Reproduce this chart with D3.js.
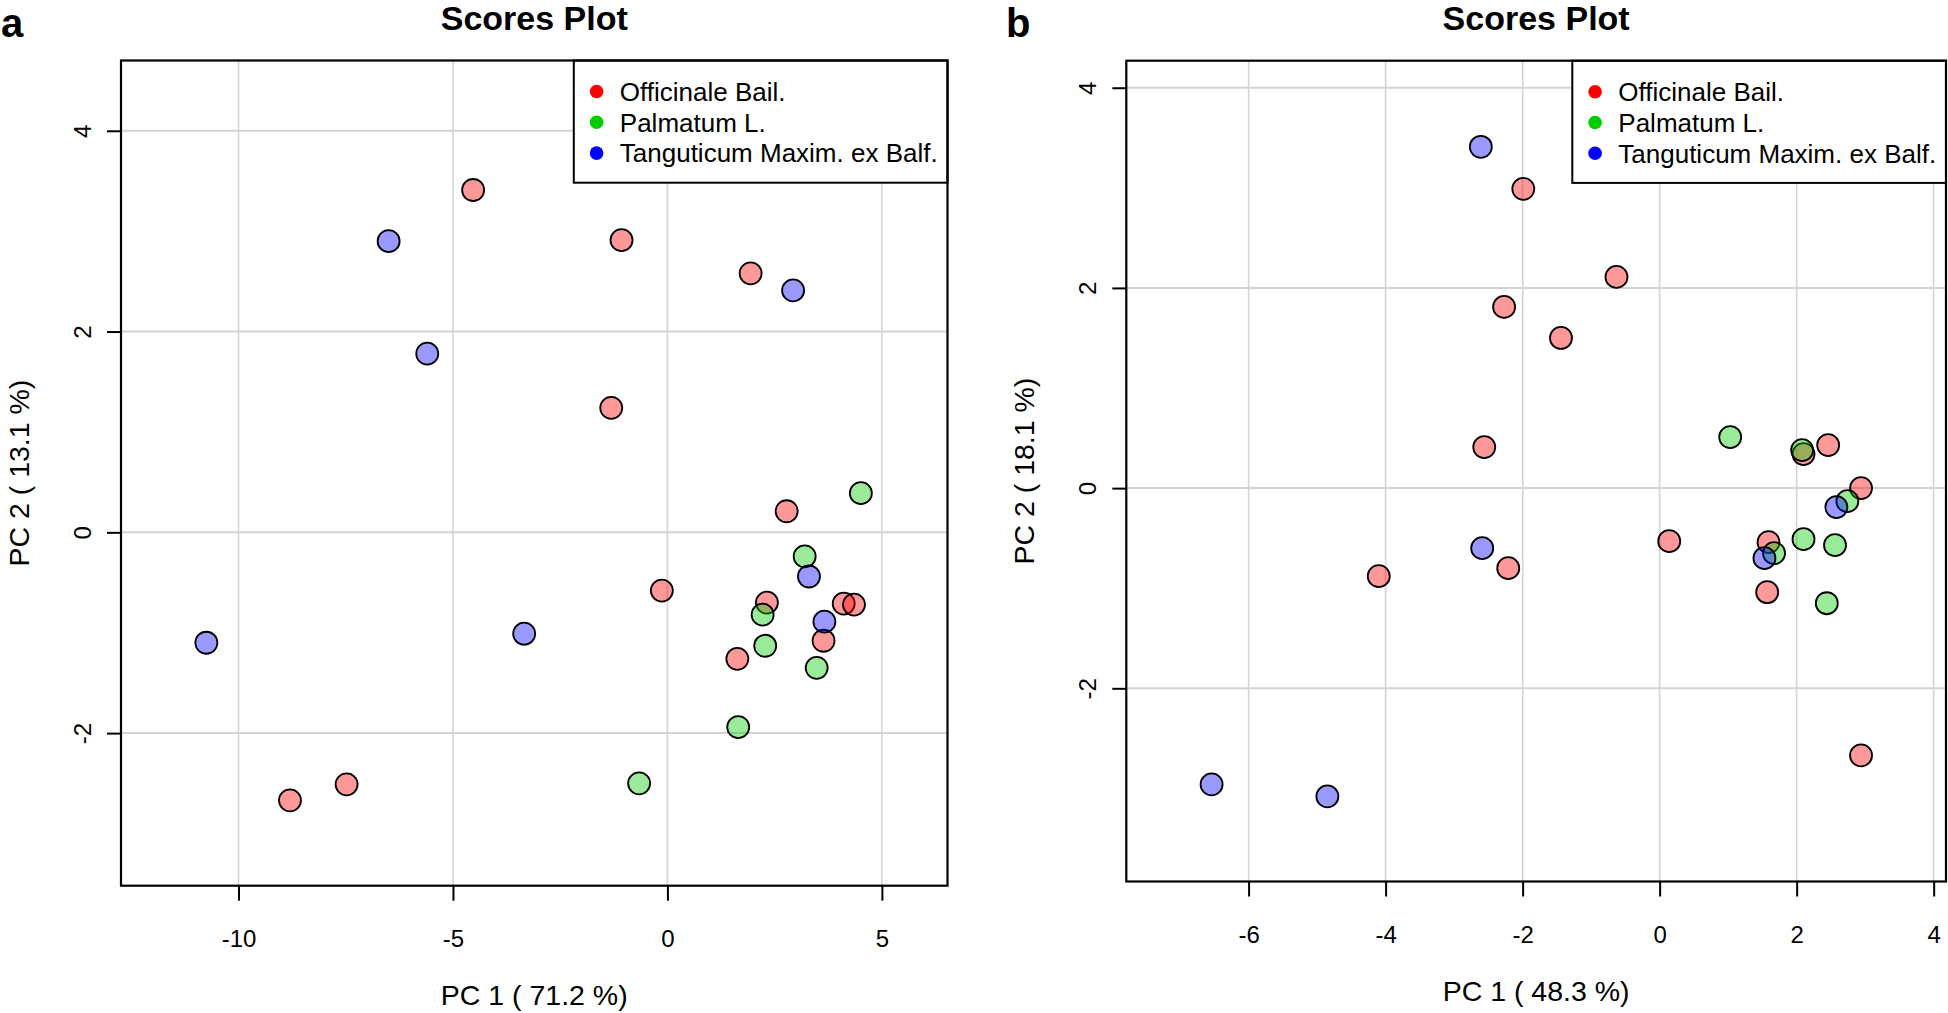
<!DOCTYPE html>
<html>
<head>
<meta charset="utf-8">
<script src="https://cdn.jsdelivr.net/npm/d3@7"></script>
<style>
  html, body { margin: 0; padding: 0; background: #fff; }
  svg { display: block; font-family: "Liberation Sans", Arial, sans-serif; }
</style>
</head>
<body>
<svg id="chart" width="1948" height="1013"></svg>
<script>
// ---------------- DATA ----------------
const seriesNames = ["Officinale Bail.", "Palmatum L.", "Tanguticum Maxim. ex Balf."];
const seriesColors = ["#FF0000", "#00CD00", "#0000FF"];

// Panel a: PCA scores [PC1, PC2]
const aOfficinale = [[-4.53, 3.41], [-1.07, 2.91], [1.94, 2.58], [-1.31, 1.24], [2.78, 0.21],
  [-0.13, -0.58], [2.32, -0.70], [4.11, -0.71], [4.35, -0.72], [3.64, -1.08], [1.63, -1.26],
  [-7.48, -2.51], [-8.80, -2.67]];
const aPalmatum = [[4.51, 0.39], [3.20, -0.24], [2.22, -0.82], [2.28, -1.13], [3.48, -1.35],
  [1.65, -1.94], [-0.66, -2.50]];
const aTanguticum = [[-6.50, 2.90], [2.93, 2.41], [-5.60, 1.78], [3.30, -0.44], [3.66, -0.89],
  [-3.34, -1.01], [-10.75, -1.10]];

// Panel b: PCA scores [PC1, PC2]
const bOfficinale = [[-1.99, 2.99], [-0.63, 2.11], [-2.27, 1.81], [-1.44, 1.50], [-2.56, 0.41],
  [2.10, 0.34], [2.46, 0.43], [2.94, 0.00], [0.14, -0.53], [1.59, -0.54], [-2.21, -0.80],
  [-4.10, -0.88], [1.57, -1.04], [2.94, -2.67]];
const bPalmatum = [[1.03, 0.51], [2.08, 0.38], [2.74, -0.13], [2.10, -0.51], [2.56, -0.57],
  [1.67, -0.65], [2.44, -1.15]];
const bTanguticum = [[-2.61, 3.41], [2.58, -0.19], [1.53, -0.70], [-2.59, -0.60],
  [-6.54, -2.96], [-4.85, -3.08]];

const aXTicks = [-10, -5, 0, 5];
const aYTicks = [-2, 0, 2, 4];
const bXTicks = [-6, -4, -2, 0, 2, 4];
const bYTicks = [-2, 0, 2, 4];

const titleText = "Scores Plot";
const aXLabel = "PC 1 ( 71.2 %)";
const aYLabel = "PC 2 ( 13.1 %)";
const bXLabel = "PC 1 ( 48.3 %)";
const bYLabel = "PC 2 ( 18.1 %)";

// ---------------- LAYOUT ----------------
const panels = [
  { tag: "a", left: 121, right: 947.5, top: 60.5, bottom: 885.7,
    xDomain: [-12.74, 6.53], yDomain: [-3.52, 4.70],
    xTicks: aXTicks, yTicks: aYTicks, xLabel: aXLabel, yLabel: aYLabel,
    groups: [aOfficinale, aPalmatum, aTanguticum], tagX: 1 },
  { tag: "b", left: 1126.3, right: 1946, top: 60.7, bottom: 881.5,
    xDomain: [-7.785, 4.18], yDomain: [-3.93, 4.27],
    xTicks: bXTicks, yTicks: bYTicks, xLabel: bXLabel, yLabel: bYLabel,
    groups: [bOfficinale, bPalmatum, bTanguticum], tagX: 1006 }
];

const svg = d3.select("#chart");
const TICK_FONT = 24, LABEL_FONT = 28.5, LEGEND_FONT = 26;
const fmt = d => String(d); // plain hyphen-minus like R

panels.forEach(p => {
  const g = svg.append("g");
  const x = d3.scaleLinear().domain(p.xDomain).range([p.left, p.right]);
  const y = d3.scaleLinear().domain(p.yDomain).range([p.bottom, p.top]);
  const cx = (p.left + p.right) / 2, cy = (p.top + p.bottom) / 2;

  // grid
  g.append("g").selectAll("line").data(p.xTicks).join("line")
    .attr("x1", d => x(d)).attr("x2", d => x(d)).attr("y1", p.top).attr("y2", p.bottom)
    .attr("stroke", "#D3D3D3").attr("stroke-width", 1.6);
  g.append("g").selectAll("line").data(p.yTicks).join("line")
    .attr("y1", d => y(d)).attr("y2", d => y(d)).attr("x1", p.left).attr("x2", p.right)
    .attr("stroke", "#D3D3D3").attr("stroke-width", 2);

  // points
  p.groups.forEach((pts, i) => {
    g.append("g").selectAll("circle").data(pts).join("circle")
      .attr("cx", d => x(d[0])).attr("cy", d => y(d[1])).attr("r", 11)
      .attr("fill", seriesColors[i]).attr("fill-opacity", 0.4)
      .attr("stroke", "#000").attr("stroke-width", 1.8);
  });

  // axes
  const xAxis = g.append("g").attr("transform", `translate(0,${p.bottom})`)
    .call(d3.axisBottom(x).tickValues(p.xTicks).tickSize(15).tickPadding(29).tickFormat(fmt));
  xAxis.select(".domain").remove();
  xAxis.selectAll("line").attr("stroke", "#000").attr("stroke-width", 2);
  xAxis.selectAll("text").attr("font-size", TICK_FONT).attr("fill", "#000")
    .attr("font-family", '"Liberation Sans", Arial, sans-serif');

  const yAxis = g.append("g").attr("transform", `translate(${p.left},0)`)
    .call(d3.axisLeft(y).tickValues(p.yTicks).tickSize(14).tickFormat(fmt));
  yAxis.select(".domain").remove();
  yAxis.selectAll("line").attr("stroke", "#000").attr("stroke-width", 2);
  yAxis.selectAll("text").attr("x", null).attr("dy", "0.355em")
    .attr("text-anchor", "middle").attr("transform", "translate(-38.5,0) rotate(-90)")
    .attr("font-size", TICK_FONT).attr("fill", "#000")
    .attr("font-family", '"Liberation Sans", Arial, sans-serif');

  // legend
  const lg = g.append("g");
  const lgLeft = p.right - 373.7, lgTop = p.top, lgBottom = p.top + 122.2;
  lg.append("rect").attr("x", lgLeft).attr("y", lgTop).attr("width", p.right - lgLeft)
    .attr("height", lgBottom - lgTop).attr("fill", "#fff").attr("stroke", "#000").attr("stroke-width", 2);
  seriesNames.forEach((name, i) => {
    const yy = lgTop + 31 + i * 30.8;
    lg.append("circle").attr("cx", lgLeft + 22.8).attr("cy", yy).attr("r", 6.8).attr("fill", seriesColors[i]);
    lg.append("text").attr("x", lgLeft + 46).attr("y", yy).attr("dy", "0.355em")
      .attr("font-size", LEGEND_FONT).attr("fill", "#000").text(name);
  });

  // box
  g.append("rect").attr("x", p.left).attr("y", p.top).attr("width", p.right - p.left)
    .attr("height", p.bottom - p.top).attr("fill", "none").attr("stroke", "#000").attr("stroke-width", 2.2);

  // labels
  g.append("text").attr("x", cx).attr("y", 30).attr("text-anchor", "middle")
    .attr("font-size", 34).attr("font-weight", "bold").text(titleText);
  g.append("text").attr("x", cx).attr("y", p.bottom + 119).attr("text-anchor", "middle")
    .attr("font-size", LABEL_FONT).text(p.xLabel);
  g.append("text").attr("transform", `translate(${p.left - 102},${cy}) rotate(-90)`)
    .attr("text-anchor", "middle").attr("dy", "0.355em")
    .attr("font-size", LABEL_FONT).text(p.yLabel);
  g.append("text").attr("x", p.tagX).attr("y", 37).attr("font-size", 40)
    .attr("font-weight", "bold").text(p.tag);
});
</script>
</body>
</html>
